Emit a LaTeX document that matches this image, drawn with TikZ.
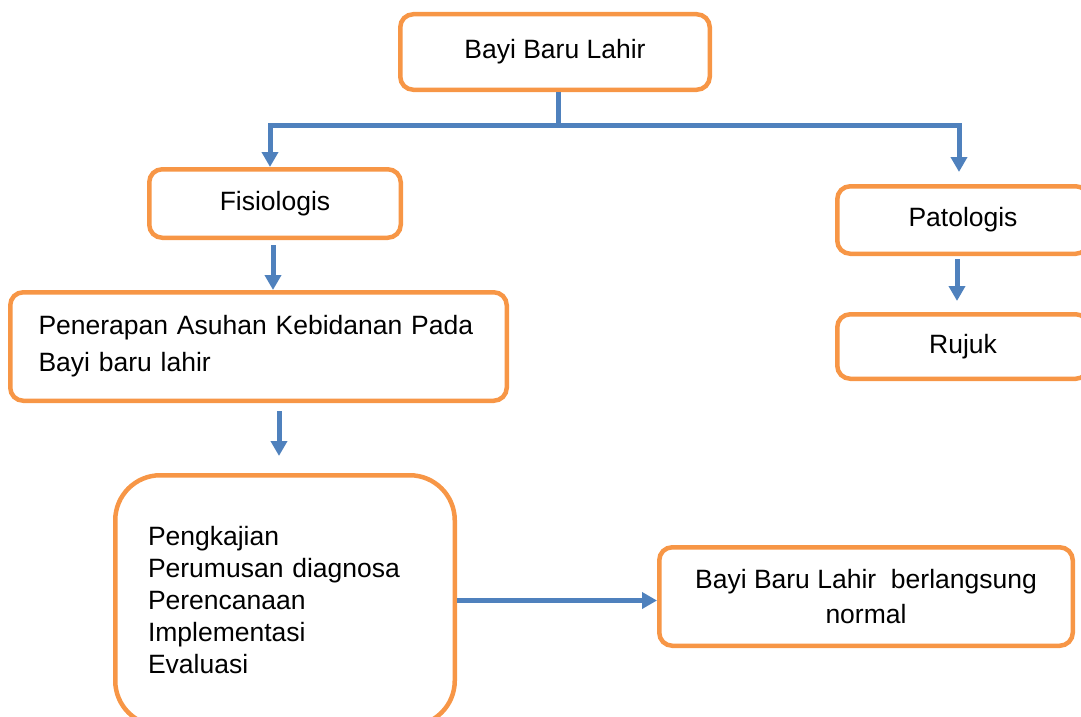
\documentclass[tikz,border=0pt]{standalone}
\usepackage{fontspec}
\setmainfont{Liberation Sans}
\usetikzlibrary{arrows.meta}
\definecolor{boxorange}{HTML}{F79646}
\definecolor{arrblue}{HTML}{4F81BD}
\begin{document}
\begin{tikzpicture}[x=1pt,y=-1pt,
  box/.style={draw=boxorange, line width=4.5pt, rounded corners=13pt, fill=white,
    font=\fontsize{26.5}{32}\selectfont, inner sep=0pt},
  conn/.style={draw=arrblue, line width=5pt},
  arr/.style={conn, -{Triangle[width=16pt,length=15pt]}}]
\useasboundingbox (0,0) rectangle (1081,717);
% nodes
\node[box, minimum width=309.5pt, minimum height=75.5pt] (top) at (555,52)
  {\raisebox{6pt}{Bayi Baru Lahir}};
\node[box, minimum width=251.5pt, minimum height=68.5pt] (fis) at (275,203.5) {Fisiologis};
\node[box, minimum width=251.5pt, minimum height=67.5pt] (pat) at (963,220) {Patologis};
\node[box, minimum width=251.5pt, minimum height=64.5pt] (ruj) at (963,346.5) {Rujuk};
\node[box, minimum width=496.5pt, minimum height=108.5pt, text width=440pt, align=left,
  font=\fontsize{26.5}{37}\selectfont] (pen) at (258.5,346.5)
  {Penerapan Asuhan Kebidanan Pada\\Bayi baru lahir};
\node[box, rounded corners=45pt, minimum width=339.5pt, minimum height=250.5pt,
  text width=274pt, align=left] (bl) at (285,600.5)
  {Pengkajian\\Perumusan diagnosa\\Perencanaan\\Implementasi\\Evaluasi};
\node[box, minimum width=413.5pt, minimum height=98.5pt, align=center,
  font=\fontsize{26.5}{35}\selectfont] (nor) at (866,596.5)
  {Bayi Baru Lahir~ berlangsung\\normal};
% junction coordinates
\coordinate (j0) at (558,125);
\coordinate (jl) at (270,125);
\coordinate (jr) at (959,125);
% connectors
\draw[conn] (top.south -| j0) -- (j0);
\draw[arr] (j0) -- (jl) -- (fis.north -| jl);
\draw[arr, shorten >=12pt] (j0) -- (jr) -- (pat.north -| jr);
\draw[arr, shorten <=5pt] ([xshift=-2pt]fis.south) -- ([xshift=-2pt]fis.south |- pen.north);
\draw[arr, shorten <=3pt, shorten >=11pt] ([xshift=-6pt]pat.south) -- ([xshift=-6pt]ruj.north);
\draw[arr, shorten <=8pt, shorten >=17pt] ([xshift=-6pt]bl.north |- pen.south) -- ([xshift=-6pt]bl.north);
\draw[arr] (bl.east) -- (nor.west |- bl.east);
\end{tikzpicture}
\end{document}
